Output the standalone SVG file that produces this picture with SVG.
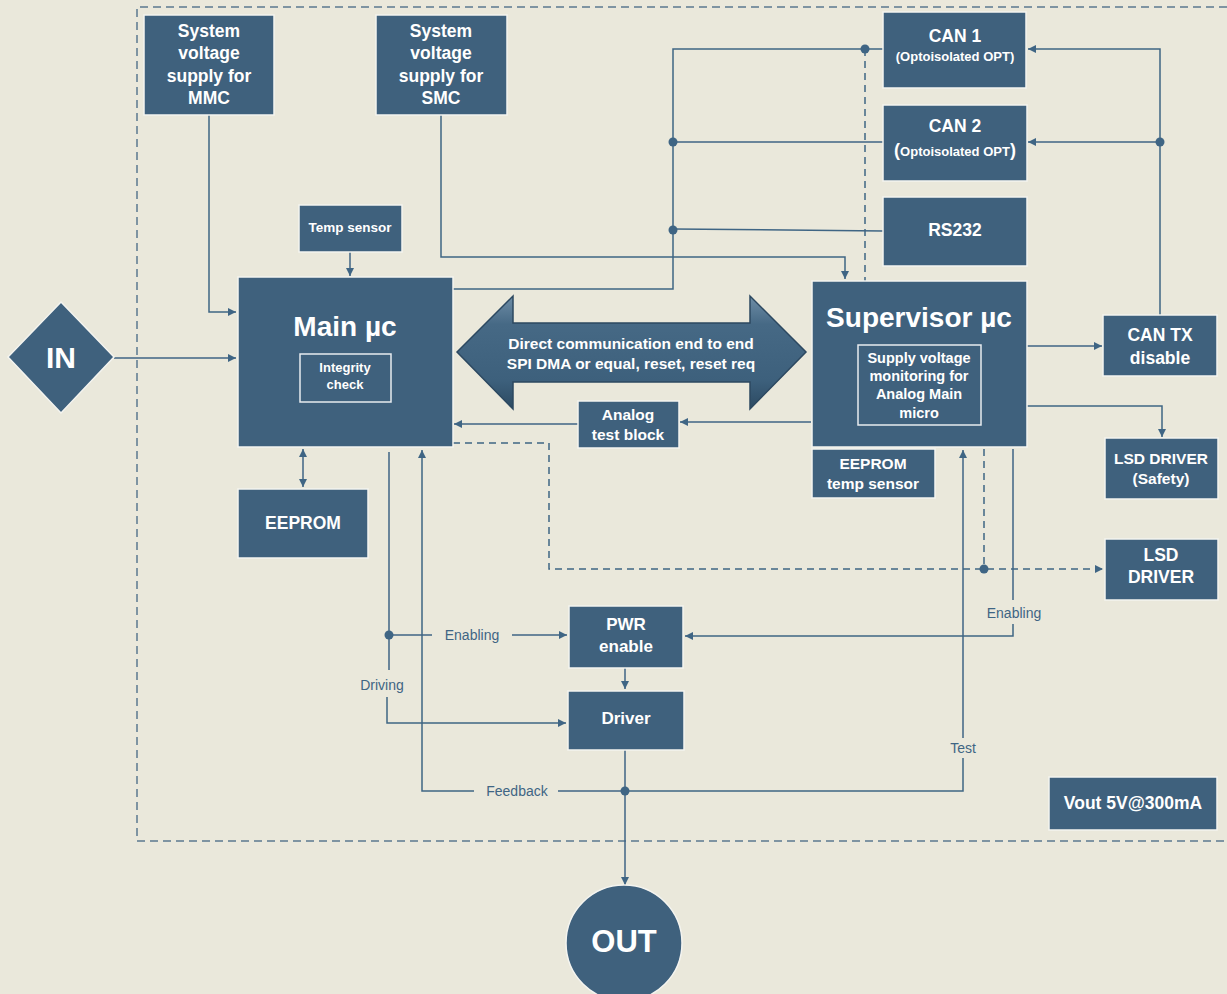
<svg xmlns="http://www.w3.org/2000/svg" width="1227" height="994" viewBox="0 0 1227 994">
<style>
.node{fill:#3F617D;stroke:#F4F4F0;stroke-width:1.5}
.inner{fill:none;stroke:#E8ECEF;stroke-width:1.5}
.t{font-family:"Liberation Sans",Arial,sans-serif;font-weight:bold;fill:#FFFFFF;text-anchor:middle}
.lbl{font-family:"Liberation Sans",Arial,sans-serif;fill:#3F6584;font-size:14px;text-anchor:middle}
.c{fill:none;stroke:#3F6584;stroke-width:1.5}
.d{fill:none;stroke:#3F6584;stroke-width:1.5;stroke-dasharray:7,5}
.dot{fill:#3F6584}
</style>
<defs>
<marker id="a" viewBox="0 0 10 10" refX="10" refY="5" markerWidth="9" markerHeight="8" markerUnits="userSpaceOnUse" orient="auto-start-reverse">
<path d="M0,0 L10,5 L0,10 z" fill="#3F6584"/>
</marker>
<linearGradient id="g" x1="0" y1="0" x2="0" y2="1">
<stop offset="0" stop-color="#6E8DA6"/>
<stop offset="0.25" stop-color="#466985"/>
<stop offset="0.75" stop-color="#3D607C"/>
<stop offset="1" stop-color="#2C4A62"/>
</linearGradient>
</defs>
<rect x="0" y="0" width="1227" height="994" fill="#EAE8DB"/>
<path d="M1227,7 H137 V841 H1227" fill="none" stroke="#5B7890" stroke-width="1.5" stroke-dasharray="8,5"/>

<g id="connectors">
<path class="c" d="M209,115 V312 H236" marker-end="url(#a)"/>
<path class="c" d="M114,358 H236" marker-end="url(#a)"/>
<path class="c" d="M350,252 V276" marker-end="url(#a)"/>
<path class="c" d="M441,115 V257 H845 V279" marker-end="url(#a)"/>
<path class="c" d="M453,289 H673 V49 H883"/>
<path class="c" d="M673,142 H883"/>
<path class="c" d="M673,229 L883,231"/>
<path class="d" d="M865,49 V281"/>
<path class="c" d="M1160,315 V49 H1028" marker-end="url(#a)"/>
<path class="c" d="M1160,142 H1028" marker-end="url(#a)"/>
<path class="c" d="M1027,346 H1102" marker-end="url(#a)"/>
<path class="c" d="M1027,406 H1162 V437" marker-end="url(#a)"/>
<path class="c" d="M811,422 H680" marker-end="url(#a)"/>
<path class="c" d="M578,424 H454" marker-end="url(#a)"/>
<path class="d" d="M453,443 H549 V569 H1103" marker-end="url(#a)"/>
<path class="d" d="M984,449 V569"/>
<path class="c" d="M303,449 V487" marker-start="url(#a)" marker-end="url(#a)"/>
<path class="c" d="M389,452 V670"/>
<path class="c" d="M387,697 V723 H566" marker-end="url(#a)"/>
<path class="c" d="M389,635 H432"/>
<path class="c" d="M512,635 H567" marker-end="url(#a)"/>
<path class="c" d="M625,791 H558"/>
<path class="c" d="M474,791 H422 V450" marker-end="url(#a)"/>
<path class="c" d="M625,791 H963 V758"/>
<path class="c" d="M963,738 V450" marker-end="url(#a)"/>
<path class="c" d="M1013,449 V600"/>
<path class="c" d="M1013,624 V636 H685" marker-end="url(#a)"/>
<path class="c" d="M625,668 V689" marker-end="url(#a)"/>
<path class="c" d="M625,750 V885" marker-end="url(#a)"/>
<circle class="dot" cx="673" cy="142" r="4.5"/>
<circle class="dot" cx="673" cy="230" r="4.5"/>
<circle class="dot" cx="865" cy="49" r="4.5"/>
<circle class="dot" cx="1160" cy="142" r="4.5"/>
<circle class="dot" cx="984" cy="569" r="4.5"/>
<circle class="dot" cx="389" cy="635" r="4.5"/>
<circle class="dot" cx="625" cy="791" r="4.5"/>
<text class="lbl" x="472" y="640">Enabling</text>
<text class="lbl" x="382" y="690">Driving</text>
<text class="lbl" x="517" y="796">Feedback</text>
<text class="lbl" x="963" y="753">Test</text>
<text class="lbl" x="1014" y="618">Enabling</text>
</g>

<g id="mmc-supply">
<rect class="node" x="144" y="15" width="130" height="100"/>
<text class="t" font-size="17.5"><tspan x="209" y="37">System</tspan><tspan x="209" y="59">voltage</tspan><tspan x="209" y="82">supply for</tspan><tspan x="209" y="104">MMC</tspan></text>
</g>
<g id="smc-supply">
<rect class="node" x="376" y="15" width="131" height="100"/>
<text class="t" font-size="17.5"><tspan x="441" y="37">System</tspan><tspan x="441" y="59">voltage</tspan><tspan x="441" y="82">supply for</tspan><tspan x="441" y="104">SMC</tspan></text>
</g>
<g id="can1">
<rect class="node" x="883" y="12" width="143" height="76"/>
<text class="t" font-size="17.5" x="955" y="42">CAN 1</text>
<text class="t" font-size="13" x="955" y="61">(Optoisolated OPT)</text>
</g>
<g id="can2">
<rect class="node" x="883" y="105" width="144" height="76"/>
<text class="t" font-size="17.5" x="955" y="132">CAN 2</text>
<text class="t" font-size="13" x="955" y="156"><tspan font-size="18">(</tspan>Optoisolated OPT<tspan font-size="18">)</tspan></text>
</g>
<g id="rs232">
<rect class="node" x="883" y="197" width="144" height="69"/>
<text class="t" font-size="17.5" x="955" y="236">RS232</text>
</g>
<g id="temp-sensor">
<rect class="node" x="299" y="205" width="103" height="47"/>
<text class="t" font-size="13.5" x="350" y="232">Temp sensor</text>
</g>
<g id="in">
<polygon class="node" points="61,302 114,357 61,413 8,357"/>
<text class="t" font-size="30" x="61" y="368">IN</text>
</g>
<g id="main-uc">
<rect class="node" x="238" y="277" width="215" height="170"/>
<text class="t" font-size="28" x="345" y="336">Main µc</text>
<rect class="inner" x="300" y="354" width="91" height="48"/>
<text class="t" font-size="13"><tspan x="345" y="372">Integrity</tspan><tspan x="345" y="389">check</tspan></text>
</g>
<g id="direct-comm">
<polygon points="457,352 513,296 513,323 750,323 750,296 806,352 750,409 750,382 513,382 513,409" fill="url(#g)" stroke="#2C4860" stroke-width="1.5"/>
<text class="t" font-size="15.5"><tspan x="631" y="349">Direct communication end to end</tspan><tspan x="631" y="369">SPI DMA or equal, reset, reset req</tspan></text>
</g>
<g id="analog-test">
<rect class="node" x="578" y="401" width="101" height="47"/>
<text class="t" font-size="15.5"><tspan x="628" y="420">Analog</tspan><tspan x="628" y="440">test block</tspan></text>
</g>
<g id="supervisor-uc">
<rect class="node" x="812" y="281" width="215" height="166"/>
<text class="t" font-size="28" x="919" y="327">Supervisor µc</text>
<rect class="inner" x="858" y="345" width="123" height="80"/>
<text class="t" font-size="14.5"><tspan x="919" y="363">Supply voltage</tspan><tspan x="919" y="381">monitoring for</tspan><tspan x="919" y="399">Analog Main</tspan><tspan x="919" y="418">micro</tspan></text>
</g>
<g id="eeprom-temp">
<rect class="node" x="812" y="449" width="123" height="49"/>
<text class="t" font-size="15.5"><tspan x="873" y="469">EEPROM</tspan><tspan x="873" y="489">temp sensor</tspan></text>
</g>
<g id="can-tx-disable">
<rect class="node" x="1103" y="315" width="114" height="61"/>
<text class="t" font-size="17.5"><tspan x="1160" y="341">CAN TX</tspan><tspan x="1160" y="364">disable</tspan></text>
</g>
<g id="lsd-safety">
<rect class="node" x="1105" y="438" width="113" height="61"/>
<text class="t" font-size="15.5"><tspan x="1161" y="464">LSD DRIVER</tspan><tspan x="1161" y="484">(Safety)</tspan></text>
</g>
<g id="lsd-driver">
<rect class="node" x="1105" y="539" width="113" height="61"/>
<text class="t" font-size="17.5"><tspan x="1161" y="561">LSD</tspan><tspan x="1161" y="583">DRIVER</tspan></text>
</g>
<g id="eeprom">
<rect class="node" x="238" y="489" width="130" height="69"/>
<text class="t" font-size="17.5" x="303" y="529">EEPROM</text>
</g>
<g id="pwr-enable">
<rect class="node" x="569" y="606" width="114" height="62"/>
<text class="t" font-size="17"><tspan x="626" y="630">PWR</tspan><tspan x="626" y="652">enable</tspan></text>
</g>
<g id="driver">
<rect class="node" x="568" y="691" width="116" height="59"/>
<text class="t" font-size="17" x="626" y="724">Driver</text>
</g>
<g id="out">
<circle class="node" cx="624" cy="943" r="58"/>
<text class="t" font-size="31" x="624" y="952">OUT</text>
</g>
<g id="vout">
<rect class="node" x="1049" y="777" width="168" height="53"/>
<text class="t" font-size="17.5" x="1133" y="809">Vout 5V@300mA</text>
</g>
</svg>
